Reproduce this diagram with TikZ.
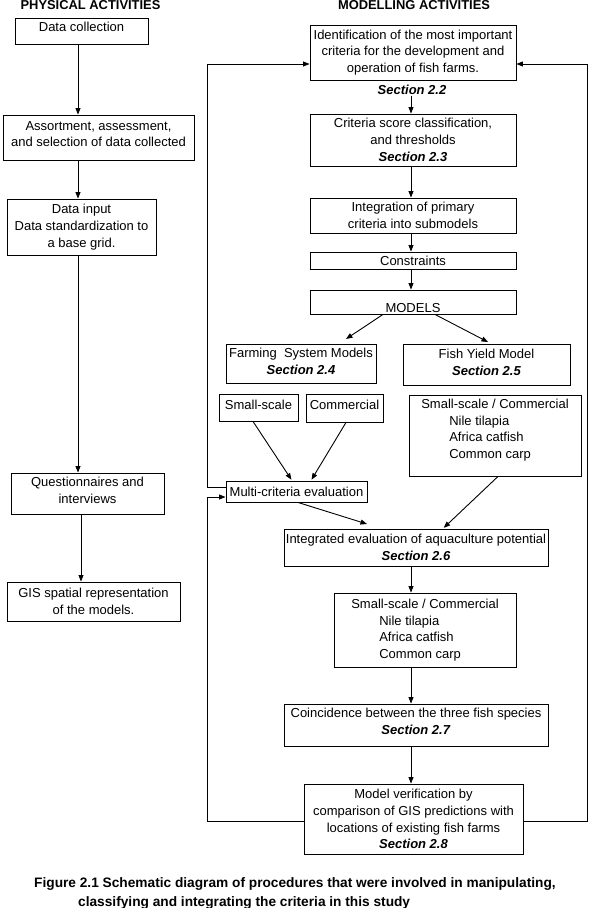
\documentclass[tikz,border=0pt]{standalone}
\usepackage{fontspec}
\setmainfont{Liberation Sans}
\usetikzlibrary{arrows.meta,calc}
\newcommand\bxfont{\fontsize{13pt}{16.7pt}\selectfont}
\newcommand\hdfont{\fontsize{12.9pt}{15pt}\selectfont\bfseries}
\newcommand\cpfont{\fontsize{13.7pt}{19pt}\selectfont\bfseries}
\newcommand\sect[1]{\textbf{\textit{#1}}}
\tikzset{
  box/.style={draw, line width=0.9pt, inner sep=0pt, align=center, font=\bxfont},
  sbox/.style={box, align=left},
  lbl/.style={inner sep=1pt, font=\bxfont},
  hdr/.style={inner sep=0pt, font=\hdfont},
  captxt/.style={inner sep=0pt, font=\cpfont},
  arr/.style={line width=0.9pt, -{Triangle[length=6.5pt,width=5pt]}}
}
\begin{document}
\begin{tikzpicture}[x=1pt,y=-1pt]
\useasboundingbox (0,0) rectangle (594,908);
% headers
\node[hdr, anchor=base] (hp) at (90.5,9.5) {PHYSICAL ACTIVITIES};
\node[hdr, anchor=base] (hm) at (414,9.5) {MODELLING ACTIVITIES};
% left column
\node[box, minimum width=133pt, minimum height=26pt, text depth=8pt] (dc) at (81.5,31) {Data collection};
\node[box, minimum width=191pt, minimum height=45pt, text depth=7pt] (as) at (98.5,137.5) {Assortment, assessment,\\and selection of data collected};
\node[box, minimum width=149pt, minimum height=56pt] (di) at (81.5,227) {Data input\\Data standardization to\\a base grid.};
\node[box, minimum width=153pt, minimum height=41pt, text depth=7pt] (qi) at (87.5,493.5) {Questionnaires and\\interviews};
\node[box, minimum width=173pt, minimum height=39pt] (gis) at (93.5,601.5) {GIS spatial representation\\of the models.};
% right column
\node[box, minimum width=206pt, minimum height=55pt, text depth=3pt] (id) at (413,52.5) {Identification of the most important\\criteria for the development and\\operation of fish farms.};
\node[lbl] (s22) at (412,90) {\sect{Section 2.2}};
\node[box, minimum width=206pt, minimum height=52pt] (cr) at (413,140) {Criteria score classification,\\and thresholds\\\sect{Section 2.3}};
\node[box, minimum width=206pt, minimum height=35pt] (ig) at (413,215.5) {Integration of primary\\criteria into submodels};
\node[box, minimum width=206pt, minimum height=17pt] (cs) at (413,260.5) {Constraints};
\node[box, minimum width=206pt, minimum height=24pt, text height=20.5pt] (md) at (413,302) {MODELS};
\node[box, minimum width=150pt, minimum height=39pt, text depth=4pt] (fs) at (301,363.5) {Farming\ \ System Models\\\sect{Section 2.4}};
\node[box, minimum width=167pt, minimum height=41pt, text depth=4pt] (fy) at (486.5,364.5) {Fish Yield Model\\\sect{Section 2.5}};
\node[box, minimum width=79pt, minimum height=27pt, text depth=6pt] (ss) at (258.5,407.5) {Small-scale};
\node[box, minimum width=77pt, minimum height=28pt, text depth=6pt] (cm) at (344.5,408) {Commercial};
\node[sbox, minimum width=172pt, minimum height=81pt, text depth=13.7pt] (sp1) at (495,435.5) {Small-scale / Commercial\\\hspace*{28pt}Nile tilapia\\\hspace*{28pt}Africa catfish\\\hspace*{28pt}Common carp};
\node[box, minimum width=141pt, minimum height=21pt] (mce) at (296.5,491.5) {Multi-criteria evaluation};
\node[box, minimum width=264pt, minimum height=37pt] (ie) at (416,547.5) {Integrated evaluation of aquaculture potential\\\sect{Section 2.6}};
\node[sbox, minimum width=182pt, minimum height=74pt] (sp2) at (425,630) {Small-scale / Commercial\\\hspace*{28pt}Nile tilapia\\\hspace*{28pt}Africa catfish\\\hspace*{28pt}Common carp};
\node[box, minimum width=264pt, minimum height=42pt, text depth=7pt] (co) at (416,725) {Coincidence between the three fish species\\\sect{Section 2.7}};
\node[box, minimum width=219pt, minimum height=70pt] (mv) at (413.5,819) {Model verification by\\comparison of GIS predictions with\\locations of existing fish farms\\\sect{Section 2.8}};
% caption
\node[captxt, anchor=base west] (c1) at (34,887) {Figure 2.1 Schematic diagram of procedures that were involved in manipulating,};
\node[captxt, anchor=base west] (c2) at (78,906) {classifying and integrating the criteria in this study};
% helper coordinates
\coordinate (xa) at (78,0);
\coordinate (xb) at (81,0);
\coordinate (rc) at (411,0);
\coordinate (lx) at (207,0);
\coordinate (rx) at (587,0);
\coordinate (idInL) at ([yshift=-11.5pt]id.west);
\coordinate (idInR) at ([yshift=-11.5pt]id.east);
\coordinate (mceOut) at ([yshift=4.5pt]mce.west);
\coordinate (mceIn) at ([yshift=-5.5pt]mce.west);
\coordinate (mvL) at ([yshift=-2pt]mv.west);
\coordinate (mvR) at ([yshift=-2pt]mv.east);
\coordinate (fsT) at (346,339);
\coordinate (fyT) at (488,342);
\coordinate (ieL) at (367,524);
% left column arrows
\draw[arr] (dc.south -| xa) -- (as.north -| xa);
\draw[arr] (as.south -| xa) -- (di.north -| xa);
\draw[arr] (di.south -| xa) -- (qi.north -| xa);
\draw[arr] (qi.south -| xb) -- (gis.north -| xb);
% right column arrows
\draw[arr] (s22.south -| rc) -- (cr.north -| rc);
\draw[arr] (cr.south -| rc) -- (ig.north -| rc);
\draw[arr] (ig.south -| rc) -- (cs.north -| rc);
\draw[arr] (cs.south -| rc) -- (md.north -| rc);
\draw[arr] ([xshift=-30pt]md.south) -- (fsT);
\draw[arr] ([xshift=22pt]md.south) -- (fyT);
\draw[arr, shorten >=1pt] ([xshift=-5.5pt]ss.south) -- ([xshift=-4.5pt]mce.north);
\draw[arr, shorten >=1pt] ([xshift=1.5pt]cm.south) -- ([xshift=14.5pt]mce.north);
\draw[arr] ([xshift=1.5pt]mce.south) -- (ieL);
\draw[arr, shorten >=1pt] ([xshift=3pt]sp1.south) -- ([xshift=27pt]ie.north);
\draw[arr] (ie.south -| rc) -- (sp2.north -| rc);
\draw[arr] (sp2.south -| rc) -- (co.north -| rc);
\draw[arr] (co.south -| rc) -- (mv.north -| rc);
% feedback loops
\draw[arr] (mceOut) -- (lx |- mceOut) -- (lx |- idInL) -- (idInL);
\draw[arr] (mvL) -- (lx |- mvL) -- (lx |- mceIn) -- (mceIn);
\draw[arr] (mvR) -- (rx |- mvR) -- (rx |- idInR) -- (idInR);
\end{tikzpicture}
\end{document}
